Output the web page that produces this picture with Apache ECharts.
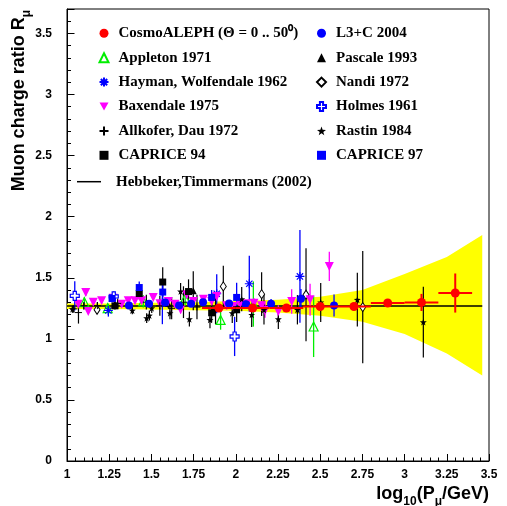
<!DOCTYPE html>
<html>
<head>
<meta charset="utf-8">
<script src="https://cdn.jsdelivr.net/npm/echarts@6/dist/echarts.min.js"></script>
<style>
html,body{margin:0;padding:0;background:#fff;}
#chart{width:507px;height:506px;}
</style>
</head>
<body>
<div id="chart"></div>
<script>
// ---- data: [log10(p), ratio, yErr, xErr] ----
const cosmoAleph = [[1.9,1.252,0.02,0.1],[2.1,1.252,0.02,0.1],[2.3,1.252,0.02,0.1],[2.5,1.265,0.025,0.1],[2.7,1.265,0.025,0.1],[2.9,1.293,0.03,0.1],[3.1,1.298,0.07,0.1],[3.3,1.375,0.16,0.1]];
const l3c2004 = [[1.367,1.273,0.01],[1.486,1.287,0.01],[1.581,1.298,0.01],[1.664,1.273,0.012],[1.735,1.287,0.015],[1.806,1.300,0.015],[1.960,1.290,0.02],[2.060,1.284,0.03],[2.209,1.287,0.04],[2.386,1.328,0.08],[2.582,1.273,0.09]];
const appleton1971 = [[1.103,1.30,0.04],[1.241,1.251,0.04],[1.452,1.306,0.05],[1.70,1.33,0.06],[1.91,1.155,0.08],[2.104,1.285,0.185],[2.461,1.101,0.25]];
const pascale1993 = [[1.284,1.279,0.03],[1.60,1.29,0.04],[1.748,1.393,0.16]];
const hayman1962 = [[1.245,1.232,0.05],[1.565,1.30,0.18],[1.887,1.369,0.16],[2.08,1.451,0.23],[2.38,1.511,0.38]];
const nandi1972 = [[1.178,1.238,0.03],[1.926,1.429,0.17],[2.153,1.366,0.18],[2.416,1.361,0.38],[2.752,1.26,0.46]];
const baxendale1975 = [[1.067,1.284,0.02],[1.111,1.38,0.03],[1.126,1.224,0.02],[1.156,1.30,0.02],[1.205,1.311,0.02],[1.274,1.333,0.02],[1.324,1.284,0.02],[1.363,1.311,0.02],[1.403,1.311,0.02],[1.442,1.311,0.02],[1.511,1.339,0.02],[1.551,1.287,0.02],[1.600,1.306,0.02],[1.640,1.284,0.02],[1.673,1.238,0.03],[1.709,1.361,0.03],[1.748,1.306,0.03],[1.808,1.325,0.03],[1.857,1.306,0.03],[1.887,1.347,0.03],[1.946,1.270,0.03],[1.985,1.265,0.03],[2.025,1.284,0.03],[2.064,1.287,0.03],[2.108,1.292,0.04],[2.153,1.270,0.04],[2.173,1.232,0.06],[2.252,1.224,0.05],[2.331,1.306,0.10],[2.44,1.32,0.13],[2.554,1.593,0.12]];
const holmes1961 = [[1.046,1.352,0.12],[1.277,1.347,0.04],[1.993,1.019,0.16]];
const allkofer1972 = [[1.040,1.245,0.03],[1.068,1.215,0.09],[1.10,1.27,0.03],[1.18,1.272,0.03],[1.30,1.29,0.04],[1.47,1.30,0.06],[1.55,1.27,0.08],[1.62,1.25,0.09],[1.69,1.30,0.13],[1.77,1.26,0.10],[1.88,1.24,0.12]];
const rastin1984 = [[1.032,1.243,0.03],[1.387,1.232,0.03],[1.472,1.169,0.04],[1.488,1.191,0.04],[1.502,1.251,0.04],[1.61,1.21,0.05],[1.673,1.388,0.07],[1.725,1.161,0.06],[1.847,1.156,0.07],[1.979,1.21,0.08],[2.035,1.325,0.1],[2.094,1.197,0.1],[2.167,1.238,0.12],[2.252,1.161,0.08],[2.365,1.238,0.12],[2.503,1.298,0.16],[2.72,1.32,0.22],[3.111,1.137,0.29]];
const caprice94 = [[1.284,1.27,0.03],[1.428,1.371,0.05],[1.567,1.465,0.12],[1.72,1.387,0.10],[1.857,1.213,0.08],[2.005,1.238,0.10]];
const caprice97 = [[1.267,1.33,0.03],[1.428,1.42,0.05],[1.567,1.383,0.06],[1.857,1.339,0.06],[2.005,1.339,0.12]];
// Hebbeker-Timmermans fit and its uncertainty band
const hebX = [1.0, 3.46];
const hebY = [1.268, 1.268];
const bandX  = [1.0, 1.25, 1.5, 1.75, 2.0, 2.25, 2.5, 2.75, 3.0, 3.25, 3.46];
const bandUp = [1.29, 1.29, 1.295, 1.30, 1.31, 1.32, 1.345, 1.40, 1.53, 1.67, 1.85];
const bandLo = [1.245, 1.245, 1.24, 1.235, 1.23, 1.215, 1.19, 1.14, 1.04, 0.88, 0.70];
const xTickStep = 0.25, yTickStep = 0.5;

// ---- styles ----
const STAR = 'path://M0,-10 L2.35,-3.24 L9.51,-3.09 L3.8,1.24 L5.88,8.09 L0,4 L-5.88,8.09 L-3.8,1.24 L-9.51,-3.09 L-2.35,-3.24 Z';
const ASTER = 'path://M0,-10 L0,10 M-10,0 L10,0 M-7,-7 L7,7 M-7,7 L7,-7';
const PLUS = 'path://M0,-10 L0,10 M-10,0 L10,0';
const OCROSS = 'path://M-3.5,-10 L3.5,-10 L3.5,-3.5 L10,-3.5 L10,3.5 L3.5,3.5 L3.5,10 L-3.5,10 L-3.5,3.5 L-10,3.5 L-10,-3.5 L-3.5,-3.5 Z';
const LINEICON = 'path://M0,0 L24,0 L24,1.5 L0,1.5 Z';
const DOWNTRI = 'path://M0,0 L10,0 L5,9 Z';

const sets = [
  {name:'CosmoALEPH (Θ = 0 .. 50⁰)', data:cosmoAleph, sym:'circle', size:9, fill:'#ff0000', stroke:'#ff0000', bw:0, ec:'#ff0000', ew:2, z:9},
  {name:'L3+C 2004', data:l3c2004, sym:'circle', size:8, fill:'#0000ff', stroke:'#0000ff', bw:0, ec:'#0000ff', ew:1.3, z:6},
  {name:'Appleton 1971', data:appleton1971, sym:'triangle', size:9, fill:'rgba(255,255,255,0)', stroke:'#00ee00', bw:1.2, ec:'#00ee00', ew:1.3, z:5},
  {name:'Pascale 1993', data:pascale1993, sym:'triangle', size:7, fill:'#000', stroke:'#000', bw:0, ec:'#000', ew:1.2, z:5},
  {name:'Hayman, Wolfendale 1962', data:hayman1962, sym:ASTER, size:9, fill:'none', stroke:'#0000ff', bw:1.2, ec:'#0000ff', ew:1.3, z:5},
  {name:'Nandi 1972', data:nandi1972, sym:'diamond', size:[6,9], fill:'#fff', stroke:'#000', bw:1, ec:'#000', ew:1.2, z:5},
  {name:'Baxendale 1975', data:baxendale1975, sym:'triangle', rot:180, size:9, fill:'#ff00ff', stroke:'#ff00ff', bw:0, ec:'#ff00ff', ew:1.3, z:5, icon:DOWNTRI},
  {name:'Holmes 1961', data:holmes1961, sym:OCROSS, size:9, fill:'#fff', stroke:'#0000ff', bw:1.2, ec:'#0000ff', ew:1.3, z:5},
  {name:'Allkofer, Dau 1972', data:allkofer1972, sym:PLUS, size:7, fill:'none', stroke:'#000', bw:1, ec:'#000', ew:1.2, z:5},
  {name:'Rastin 1984', data:rastin1984, sym:STAR, size:7, fill:'#000', stroke:'#000', bw:0, ec:'#000', ew:1.2, z:5},
  {name:'CAPRICE 94', data:caprice94, sym:'rect', size:7, fill:'#000', stroke:'#000', bw:0, ec:'#000', ew:1.2, z:5},
  {name:'CAPRICE 97', data:caprice97, sym:'rect', size:7, fill:'#0000ff', stroke:'#0000ff', bw:0, ec:'#0000ff', ew:1.3, z:5}
];
const HEB_NAME = 'Hebbeker,Timmermans (2002)';

function errRender(color, lw){
  return function(params, api){
    const x = api.value(0), y = api.value(1), e = api.value(2), ex = api.value(3);
    const ch = [];
    if (e > 0) {
      const a = api.coord([x, y - e]), b = api.coord([x, y + e]);
      ch.push({type:'line', shape:{x1:a[0], y1:a[1], x2:b[0], y2:b[1]}, style:{stroke:color, lineWidth:lw}});
    }
    if (ex > 0) {
      const a = api.coord([x - ex, y]), b = api.coord([x + ex, y]);
      ch.push({type:'line', shape:{x1:a[0], y1:a[1], x2:b[0], y2:b[1]}, style:{stroke:color, lineWidth:lw}});
    }
    return {type:'group', children:ch};
  };
}

const series = [];
// band
series.push({
  type:'custom', silent:true, z:1,
  data: bandX.map((x,i)=>[x, bandLo[i], bandUp[i]]),
  encode:{x:0, y:[1,2]},
  renderItem:function(params, api){
    if (params.dataIndex !== 0) return null;
    const pts = [];
    for (let i=0;i<bandX.length;i++) pts.push(api.coord([bandX[i], bandUp[i]]));
    for (let i=bandX.length-1;i>=0;i--) pts.push(api.coord([bandX[i], bandLo[i]]));
    return {type:'polygon', shape:{points:pts}, style:{fill:'#ffff00', stroke:null}};
  }
});
// fit line
series.push({
  name:HEB_NAME, type:'line', z:2, symbol:'none', showSymbol:false, silent:true,
  data: hebX.map((x,i)=>[x, hebY[i]]),
  lineStyle:{color:'#000', width:1.5}, itemStyle:{color:'#000'}
});
sets.forEach(s=>{
  series.push({
    type:'custom', silent:true, z:s.z,
    data:s.data.map(d=>[d[0], d[1], d[2]||0, d[3]||0]),
    encode:{x:0, y:1},
    renderItem:errRender(s.ec, s.ew)
  });
  series.push({
    name:s.name, type:'scatter', z:s.z, silent:true,
    symbol:s.sym, symbolSize:s.size, symbolRotate:s.rot||0,
    data:s.data.map(d=>[d[0], d[1]]),
    itemStyle:{color:s.fill, borderColor:s.stroke, borderWidth:s.bw, opacity:1}
  });
});

function legItem(s){ return s.icon ? {name:s.name, icon:s.icon} : {name:s.name}; }
const leftNames = [0,2,4,6,8,10].map(i=>legItem(sets[i]));
const rightNames = [1,3,5,7,9,11].map(i=>legItem(sets[i]));
const legText = {color:'#000', fontSize:15, fontWeight:'bold', fontFamily:'Liberation Serif', lineHeight:15, padding:[0,0,0,5]};

const sansBold = {fontFamily:'Liberation Sans', fontWeight:'bold', color:'#000'};
const titleRich = {a:Object.assign({fontSize:18, lineHeight:20}, sansBold), s:Object.assign({fontSize:12, lineHeight:12, verticalAlign:'bottom', padding:[0,0,-4,0]}, sansBold)};

const option = {
  animation:false,
  backgroundColor:'#fff',
  grid:{left:67, right:18, top:9, bottom:45, containLabel:false, outerBoundsMode:'none', show:true, borderColor:'#000', borderWidth:1, backgroundColor:'transparent'},
  legend:[
    {data:leftNames, orient:'vertical', left:97, top:25.8, padding:0, itemWidth:9, itemHeight:9, itemGap:9.4, textStyle:legText, selectedMode:false},
    {data:rightNames, orient:'vertical', left:316, top:25.8, padding:0, itemWidth:9, itemHeight:9, itemGap:9.4, textStyle:legText, selectedMode:false},
    {data:[{name:HEB_NAME, icon:LINEICON}], orient:'vertical', left:77, top:174.2, padding:0, itemWidth:24, itemHeight:9, textStyle:Object.assign({}, legText, {padding:[0,0,0,10]}), selectedMode:false}
  ],
  graphic:[{
    type:'text', x:29, y:10, rotation:Math.PI/2, silent:true,
    style:{text:'{a|Muon charge ratio R}{s|μ}', align:'right', verticalAlign:'bottom', rich:titleRich}
  }],
  xAxis:{
    type:'value', min:1, max:3.5, interval:xTickStep,
    name:'{a|log}{s|10}{a|(P}{s|μ}{a|/GeV)}',
    nameLocation:'end', nameGap:0,
    nameTextStyle:{align:'right', verticalAlign:'top', padding:[23,0,0,0], rich:titleRich},
    axisLine:{lineStyle:{color:'#000', width:1}},
    axisTick:{inside:true, length:7, lineStyle:{color:'#000'}},
    minorTick:{show:true, splitNumber:5, length:3.5, lineStyle:{color:'#000'}},
    splitLine:{show:false},
    axisLabel:Object.assign({fontSize:12, margin:8}, sansBold)
  },
  yAxis:{
    type:'value', min:0, max:3.7, interval:yTickStep,
    axisLine:{show:true, lineStyle:{color:'#000', width:1}},
    axisTick:{show:true, inside:true, length:7.5, lineStyle:{color:'#000'}},
    minorTick:{show:true, splitNumber:5, length:4, lineStyle:{color:'#000'}},
    splitLine:{show:false},
    axisLabel:Object.assign({fontSize:12, margin:15, showMaxLabel:false}, sansBold)
  },
  series:series
};

const chart = echarts.init(document.getElementById('chart'), null, {renderer:'canvas'});
chart.setOption(option);
</script>
</body>
</html>
